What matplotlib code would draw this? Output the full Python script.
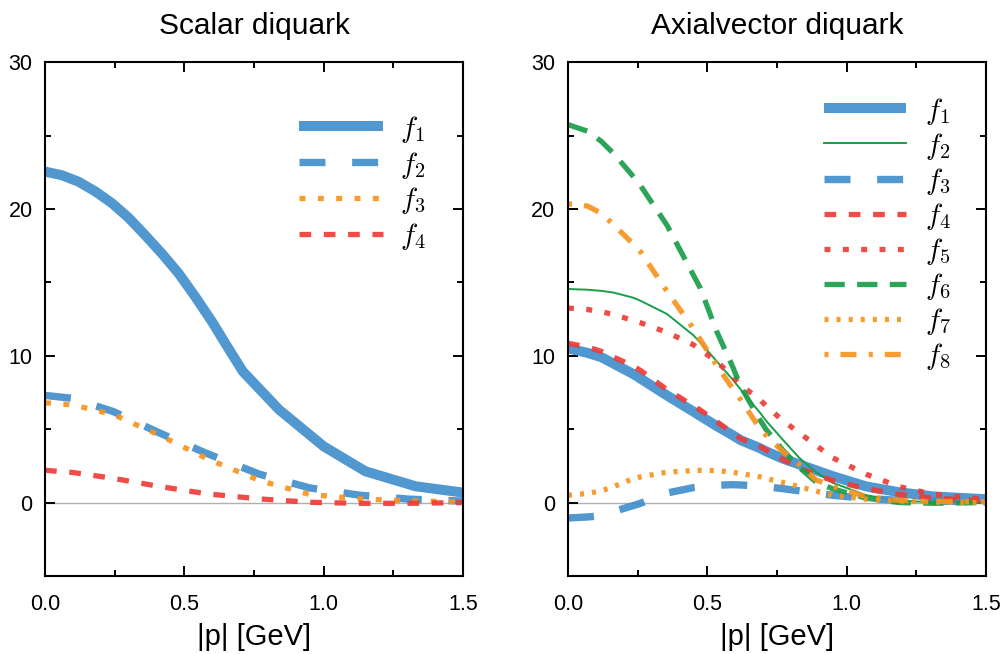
import matplotlib
matplotlib.use("Agg")
import matplotlib.pyplot as plt
from matplotlib.ticker import MultipleLocator, FormatStrFormatter

plt.rcParams['font.family'] = ['Liberation Sans', 'DejaVu Sans']
plt.rcParams['mathtext.fontset'] = 'cm'
plt.rcParams['lines.scale_dashes'] = False

BLUE = '#428fcc'
GREEN = '#1a9e4a'
RED = '#ee3b37'
ORANGE = '#f7941e'

# --- Scalar diquark ---
s_x1 = [0.0, 0.06, 0.12, 0.18, 0.24, 0.3, 0.36, 0.42, 0.48, 0.54, 0.6, 0.65,
        0.71, 0.84, 1.0, 1.15, 1.33, 1.5]
s_f1 = [22.55, 22.3, 21.86, 21.2, 20.4, 19.4, 18.2, 16.95, 15.6, 14.0, 12.3, 10.75,
        8.93, 6.33, 3.83, 2.13, 1.11, 0.68]

s_x = [0.0, 0.1, 0.245, 0.41, 0.58, 0.77, 0.95, 1.13, 1.31, 1.5]
s_f2 = [7.3, 7.1, 6.2, 4.75, 3.35, 1.93, 1.0, 0.5, 0.23, 0.1]
s_f3 = [6.8, 6.65, 6.0, 4.6, 3.0, 1.5, 0.55, 0.25, 0.12, 0.05]
s_f4 = [2.2, 2.05, 1.65, 1.1, 0.6, 0.25, 0.02, -0.05, -0.05, 0.0]

# --- Axialvector diquark ---
a_x = [0.0, 0.07, 0.12, 0.165, 0.235, 0.26, 0.355, 0.45, 0.475, 0.535, 0.59,
       0.62, 0.69, 0.71, 0.77, 0.83, 0.89, 0.95, 1.07, 1.19, 1.31, 1.5]
a_f1 = [10.5, 10.2, 9.9, 9.45, 8.75, 8.45, 7.3, 6.2, 5.9, 5.2, 4.6,
        4.25, 3.7, 3.5, 3.0, 2.6, 2.2, 1.8, 1.1, 0.7, 0.42, 0.23]
a_f2 = [14.55, 14.5, 14.42, 14.3, 13.95, 13.75, 12.85, 11.4, 10.9, 9.6, 8.4,
        7.7, 6.1, 5.6, 4.3, 3.05, 2.07, 1.35, 0.5, 0.12, 0.03, 0.0]
a_f3 = [-1.05, -0.98, -0.9, -0.6, -0.2, -0.05, 0.65, 1.02, 1.08, 1.18, 1.22,
        1.2, 1.12, 1.08, 0.95, 0.8, 0.65, 0.5, 0.28, 0.15, 0.1, 0.05]
a_f4 = [10.85, 10.6, 10.3, 9.9, 9.3, 9.0, 7.7, 6.6, 6.3, 5.5, 4.75,
        4.35, 3.8, 3.6, 2.95, 2.35, 1.9, 1.5, 0.94, 0.55, 0.3, 0.1]
a_f5 = [13.25, 13.15, 13.0, 12.8, 12.4, 12.25, 11.6, 10.75, 10.4, 9.6, 8.6,
        8.0, 7.0, 6.6, 5.6, 4.75, 3.9, 3.05, 1.93, 1.08, 0.57, 0.2]
a_f6 = [25.75, 25.3, 24.6, 23.75, 22.2, 21.6, 18.9, 15.5, 14.6, 11.6, 9.3,
        7.9, 5.6, 5.0, 3.6, 2.4, 1.4, 0.94, 0.3, 0.0, -0.05, 0.0]
a_f7 = [0.5, 0.62, 0.8, 1.1, 1.64, 1.75, 2.07, 2.18, 2.2, 2.18, 2.07,
        1.98, 1.75, 1.64, 1.38, 1.08, 0.78, 0.5, 0.23, 0.1, 0.04, 0.0]
a_f8 = [20.35, 20.2, 19.7, 18.9, 17.6, 17.1, 14.4, 11.85, 11.1, 9.3, 7.8,
        7.0, 5.0, 4.6, 3.5, 2.6, 1.55, 1.1, 0.4, 0.15, 0.08, 0.05]

fig = plt.figure(figsize=(10.03, 6.54), dpi=100)
ax1 = fig.add_axes([0.0449, 0.1193, 0.4167, 0.7856])
ax2 = fig.add_axes([0.5663, 0.1193, 0.4167, 0.7856])

al = 0.92
ax1.plot(s_x1, s_f1, color=BLUE, lw=7.2, alpha=al, solid_capstyle='butt', label='$f_1$')
ax1.plot(s_x, s_f2, color=BLUE, lw=5.3, alpha=al, dashes=(18.7, 19.2), label='$f_2$')
ax1.plot(s_x, s_f3, color=ORANGE, lw=3.8, alpha=al, dashes=(4.3, 8.9), label='$f_3$')
ax1.plot(s_x, s_f4, color=RED, lw=3.8, alpha=al, dashes=(8.4, 9.1), label='$f_4$')

ax2.plot(a_x, a_f1, color=BLUE, lw=7.2, alpha=al, solid_capstyle='butt', label='$f_1$')
ax2.plot(a_x, a_f2, color=GREEN, lw=1.4, label='$f_2$')
ax2.plot(a_x, a_f3, color=BLUE, lw=5.3, alpha=al, dashes=(18.7, 19.2), label='$f_3$')
ax2.plot(a_x, a_f4, color=RED, lw=3.8, alpha=al, dashes=(8.4, 9.1), label='$f_4$')
ax2.plot(a_x, a_f5, color=RED, lw=3.8, alpha=al, dashes=(4.3, 8.9), label='$f_5$')
ax2.plot(a_x, a_f6, color=GREEN, lw=3.8, alpha=al, dashes=(14.6, 8.9), label='$f_6$')
ax2.plot(a_x, a_f7, color=ORANGE, lw=3.8, alpha=al, dashes=(2.9, 5.8), label='$f_7$')
ax2.plot(a_x, a_f8, color=ORANGE, lw=3.8, alpha=al, dashes=(2.9, 8.6, 11.5, 8.9), label='$f_8$')

for ax, title in [(ax1, 'Scalar diquark'), (ax2, 'Axialvector diquark')]:
    ax.axhline(0, color='#b0b0b0', lw=1.0, zorder=0)
    ax.set_xlim(0, 1.5)
    ax.set_ylim(-5, 30)
    ax.xaxis.set_major_locator(MultipleLocator(0.5))
    ax.xaxis.set_minor_locator(MultipleLocator(0.25))
    ax.yaxis.set_major_locator(MultipleLocator(10))
    ax.yaxis.set_minor_locator(MultipleLocator(5))
    ax.xaxis.set_major_formatter(FormatStrFormatter('%.1f'))
    ax.tick_params(which='both', direction='in', top=True, right=True, width=1.4,
                   labelsize=15.5)
    ax.tick_params(which='major', length=7)
    ax.tick_params(which='minor', length=4)
    ax.tick_params(axis='x', which='major', pad=13)
    ax.tick_params(axis='y', which='major', pad=9)
    for sp in ax.spines.values():
        sp.set_linewidth(1.5)
    ax.set_title(title, fontsize=21.5, pad=20)
    ax.set_xlabel('|p| [GeV]', fontsize=21, labelpad=6)

ax1.legend(loc='upper left', bbox_to_anchor=(0.608, 0.9), frameon=False,
           fontsize=21, handlelength=2.88, handletextpad=0.58, labelspacing=0.17,
           borderpad=0, borderaxespad=0)
ax2.legend(loc='upper left', bbox_to_anchor=(0.612, 0.935), frameon=False,
           fontsize=21, handlelength=2.81, handletextpad=0.65, labelspacing=0.14,
           borderpad=0, borderaxespad=0)

fig.savefig('out.png', dpi=100)
